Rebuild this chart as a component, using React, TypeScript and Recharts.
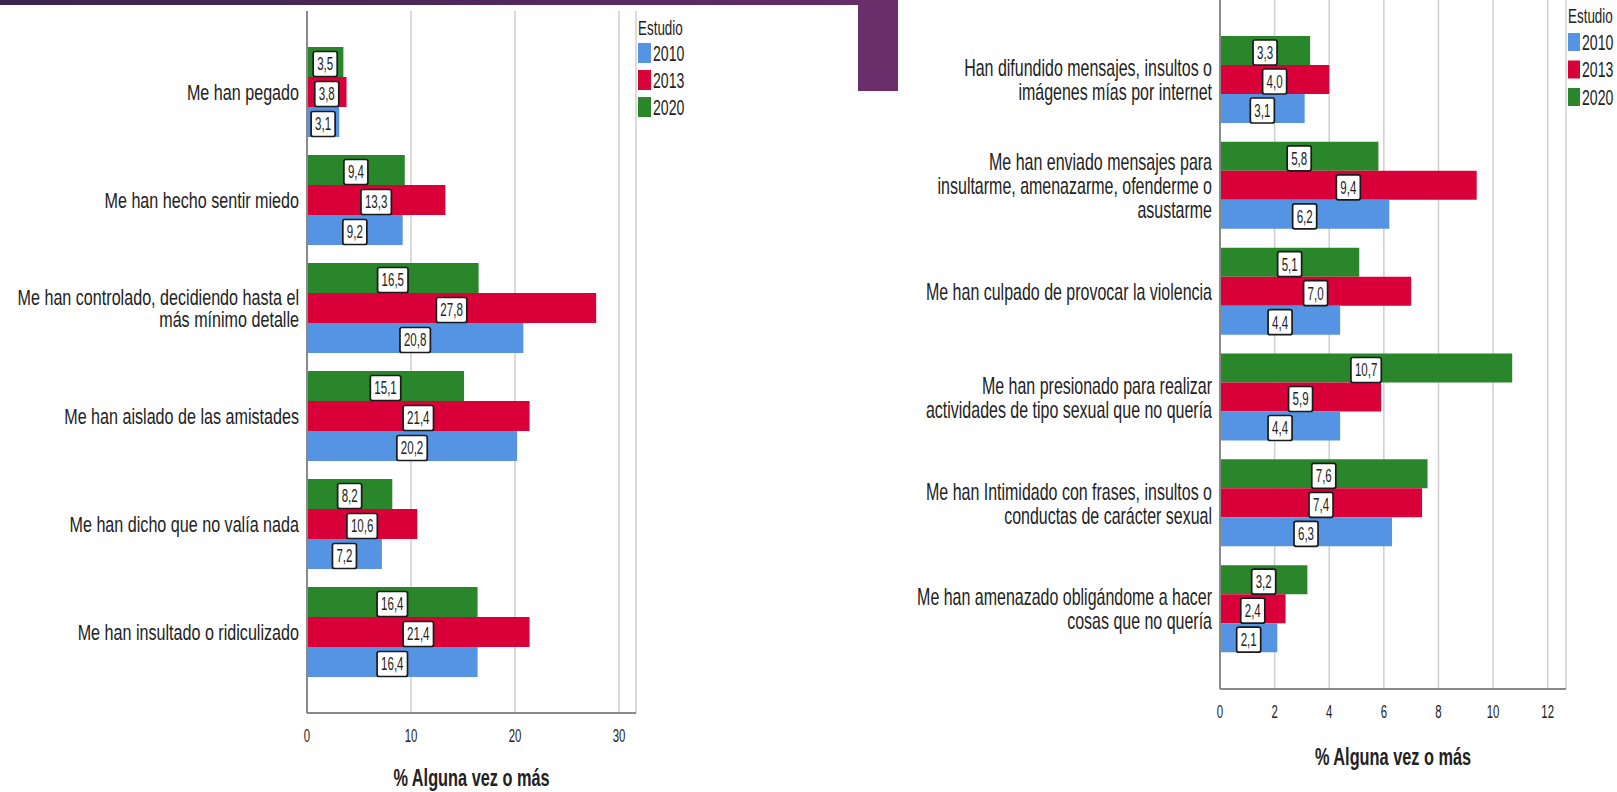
import React from 'react';
import { BarChart, Bar, XAxis, YAxis, CartesianGrid, LabelList, Legend } from 'recharts';

const leftCategories = [
  'Me han pegado',
  'Me han hecho sentir miedo',
  'Me han controlado, decidiendo hasta el\nmás mínimo detalle',
  'Me han aislado de las amistades',
  'Me han dicho que no valía nada',
  'Me han insultado o ridiculizado',
];
const left2010 = [3.1, 9.2, 20.8, 20.2, 7.2, 16.4];
const left2013 = [3.8, 13.3, 27.8, 21.4, 10.6, 21.4];
const left2020 = [3.5, 9.4, 16.5, 15.1, 8.2, 16.4];
const leftTicks = [0, 10, 20, 30];

const rightCategories = [
  'Han difundido mensajes, insultos o\nimágenes mías por internet',
  'Me han enviado mensajes para\ninsultarme, amenazarme, ofenderme o\nasustarme',
  'Me han culpado de provocar la violencia',
  'Me han presionado para realizar\nactividades de tipo sexual que no quería',
  'Me han Intimidado con frases, insultos o\nconductas de carácter sexual',
  'Me han amenazado obligándome a hacer\ncosas que no quería',
];
const right2010 = [3.1, 6.2, 4.4, 4.4, 6.3, 2.1];
const right2013 = [4.0, 9.4, 7.0, 5.9, 7.4, 2.4];
const right2020 = [3.3, 5.8, 5.1, 10.7, 7.6, 3.2];
const rightTicks = [0, 2, 4, 6, 8, 10, 12];

const seriesYears = ['2010', '2013', '2020'];
const seriesColors = ['#5593e3', '#d9003a', '#2a862a'];
const axisTitle = '% Alguna vez o más';
const legendTitle = 'Estudio';

const FONT = "'Liberation Sans', Arial, Helvetica, sans-serif";
const TXT = '#222';

function buildRows(cats: string[], a: number[], b: number[], c: number[]) {
  return cats.map((cat, i) => ({ cat, y2010: a[i], y2013: b[i], y2020: c[i] }));
}

const fmt = (v: number) => v.toFixed(1).replace('.', ',');

const charW = (ch: string) => (ch === ',' ? 0.278 : 0.556);

const ValueLabel = (props: any) => {
  const { x, y, width, height, value } = props;
  if (value == null) return null;
  const s = fmt(Number(value));
  const fs = 18;
  const sx = 0.64;
  let tw = 0;
  for (const ch of s) tw += charW(ch);
  tw = tw * fs * sx;
  const w = tw + 8;
  const h = 25;
  const cx = Number(x) + Number(width) / 2;
  const cy = Number(y) + Number(height) / 2 + 2;
  return (
    <g>
      <rect x={cx - w / 2} y={cy - h / 2} width={w} height={h} rx={2} fill="#fff" stroke="#1a1a1a" strokeWidth={1.7} />
      <g transform={`translate(${cx},${cy}) scale(${sx},1)`}>
        <text x={0} y={0} dy="0.36em" textAnchor="middle" fontFamily={FONT} fontSize={fs} fill={TXT}>
          {s}
        </text>
      </g>
    </g>
  );
};

const makeCatTick = (lineH: number, fontSize: number, sx: number) => (props: any) => {
  const { x, y, payload } = props;
  const lines = String(payload.value).split('\n');
  const n = lines.length;
  return (
    <g transform={`translate(${x},${y}) scale(${sx},1)`}>
      <text textAnchor="end" fontFamily={FONT} fontSize={fontSize} fill={TXT}>
        {lines.map((l, i) => (
          <tspan key={i} x={0} y={(i - (n - 1) / 2) * lineH} dy="0.36em">
            {l}
          </tspan>
        ))}
      </text>
    </g>
  );
};

const NumTick = (props: any) => {
  const { x, y, payload } = props;
  return (
    <g transform={`translate(${x},${y + 20}) scale(0.6,1)`}>
      <text x={0} y={0} dy="0.36em" textAnchor="middle" fontFamily={FONT} fontSize={19} fill={TXT}>
        {payload.value}
      </text>
    </g>
  );
};

const makeAxisTitle = (off: number) => (props: any) => {
  const vb = props.viewBox || {};
  const cx = vb.x + vb.width / 2;
  const cy = vb.y + off;
  return (
    <g transform={`translate(${cx},${cy}) scale(0.68,1)`}>
      <text x={0} y={0} dy="0.36em" textAnchor="middle" fontFamily={FONT} fontSize={24} fontWeight="bold" fill={TXT}>
        {axisTitle}
      </text>
    </g>
  );
};

const makeLegend = (titleY: number, swTop: number, step: number, swW: number, swH: number) => () => (
  <svg width={60} height={140} style={{ display: 'block', overflow: 'visible' }}>
    <g transform={`translate(0,${titleY}) scale(0.64,1)`}>
      <text x={0} y={0} dy="0.36em" fontFamily={FONT} fontSize={21} fill={TXT}>
        {legendTitle}
      </text>
    </g>
    {seriesYears.map((yr, i) => {
      const top = swTop + i * step;
      return (
        <g key={yr}>
          <rect x={0} y={top} width={swW} height={swH} fill={seriesColors[i]} />
          <g transform={`translate(${swW + 2},${top + swH / 2}) scale(0.64,1)`}>
            <text x={0} y={0} dy="0.36em" fontFamily={FONT} fontSize={22} fill={TXT}>
              {yr}
            </text>
          </g>
        </g>
      );
    })}
  </svg>
);

type PanelProps = {
  rows: any[];
  width: number;
  height: number;
  margin: any;
  yWidth: number;
  xHeight: number;
  domainMax: number;
  ticks: number[];
  lineH: number;
  catFont: number;
  catScale: number;
  titleOff: number;
  legendLeft: number;
  legend: () => any;
};

function Panel(p: PanelProps) {
  const keys = ['y2020', 'y2013', 'y2010'];
  const colorFor = (k: string) => seriesColors[seriesYears.indexOf(k.slice(1))];
  return (
    <BarChart
      width={p.width}
      height={p.height}
      data={p.rows}
      layout="vertical"
      margin={p.margin}
      barCategoryGap={9}
      barGap={0}
    >
      <CartesianGrid horizontal={false} vertical={true} stroke="#cfcfcf" strokeWidth={1.5} />
      <XAxis
        type="number"
        domain={[0, p.domainMax]}
        ticks={p.ticks}
        allowDataOverflow
        height={p.xHeight}
        axisLine={{ stroke: '#8a8a8a', strokeWidth: 2 }}
        tickLine={false}
        tickSize={0}
        tick={NumTick}
        label={{ content: makeAxisTitle(p.titleOff) } as any}
      />
      <YAxis
        type="category"
        dataKey="cat"
        width={p.yWidth}
        padding={{ top: 27, bottom: 27 }}
        axisLine={{ stroke: '#8a8a8a', strokeWidth: 2 }}
        tickLine={false}
        tickSize={0}
        tickMargin={8}
        interval={0}
        tick={makeCatTick(p.lineH, p.catFont, p.catScale)}
      />
      <Legend
        layout="vertical"
        align="center"
        verticalAlign="middle"
        content={p.legend}
        wrapperStyle={{ left: p.legendLeft, top: 0, width: 60, height: 140 }}
      />
      {keys.map((k) => (
        <Bar key={k} dataKey={k} name={k.slice(1)} fill={colorFor(k)} isAnimationActive={false}>
          <LabelList dataKey={k} content={ValueLabel} />
        </Bar>
      ))}
    </BarChart>
  );
}

export default function App() {
  const leftRows = buildRows(leftCategories, left2010, left2013, left2020);
  const rightRows = buildRows(rightCategories, right2010, right2013, right2020);
  return (
    <div
      style={{
        position: 'absolute',
        left: 0,
        top: 0,
        width: 1617,
        height: 792,
        background: '#fff',
        overflow: 'hidden',
        fontFamily: FONT,
      }}
    >
      <div
        style={{
          position: 'absolute',
          left: 0,
          top: 0,
          width: 860,
          height: 5,
          background: 'linear-gradient(90deg, #3a2650 0%, #4a2858 45%, #652c68 100%)',
        }}
      />
      <div style={{ position: 'absolute', left: 858, top: 0, width: 40, height: 91, background: '#6a2e6a' }} />
      <div style={{ position: 'absolute', left: 0, top: 0 }}>
        <Panel
          rows={leftRows}
          width={860}
          height={792}
          margin={{ top: 11, right: 224, bottom: 0, left: 0 }}
          yWidth={307}
          xHeight={79}
          domainMax={31.63}
          ticks={leftTicks}
          lineH={22}
          catFont={21.5}
          catScale={0.75}
          titleOff={64}
          legendLeft={638}
          legend={makeLegend(27, 43, 27, 13, 20)}
        />
      </div>
      <div style={{ position: 'absolute', left: 880, top: 0 }}>
        <Panel
          rows={rightRows}
          width={737}
          height={792}
          margin={{ top: 0, right: 51, bottom: 0, left: 0 }}
          yWidth={340}
          xHeight={103}
          domainMax={12.67}
          ticks={rightTicks}
          lineH={24}
          catFont={23}
          catScale={0.695}
          titleOff={67}
          legendLeft={688}
          legend={makeLegend(15, 33, 27.5, 12, 18)}
        />
      </div>
    </div>
  );
}
